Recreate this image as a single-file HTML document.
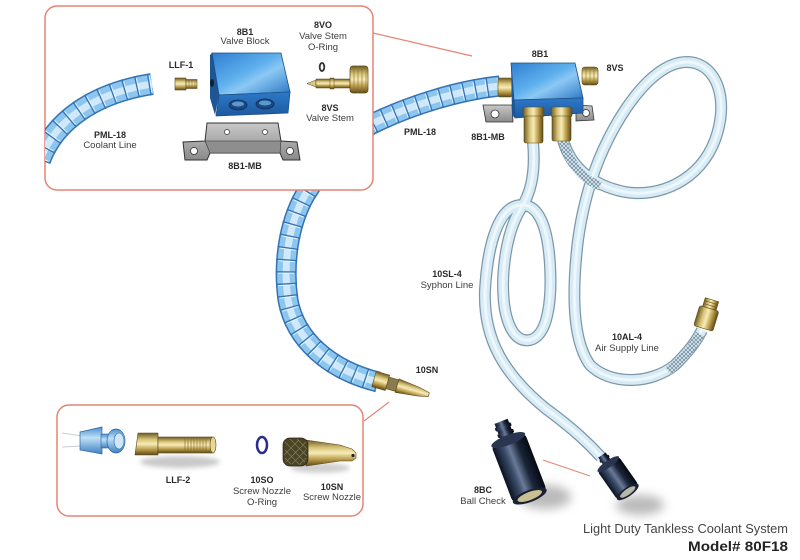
<!DOCTYPE html>
<html><head><meta charset="utf-8">
<style>
html,body{margin:0;padding:0;background:#fff;}
svg{display:block;}
text{font-family:"Liberation Sans",Arial,sans-serif;}
.b{font-weight:bold;font-size:9px;fill:#2a2a2a;}
.n{font-size:9.5px;fill:#3c3c3c;}
</style></head><body>
<svg width="800" height="560" viewBox="0 0 800 560" xmlns="http://www.w3.org/2000/svg">
<defs>
 <linearGradient id="brassV" x1="0" y1="0" x2="0" y2="1">
  <stop offset="0" stop-color="#6e5a22"/><stop offset="0.3" stop-color="#d9c57a"/><stop offset="0.5" stop-color="#f7ecb8"/><stop offset="0.75" stop-color="#b89a48"/><stop offset="1" stop-color="#5e4a18"/>
 </linearGradient>
 <linearGradient id="brassH" x1="0" y1="0" x2="1" y2="0">
  <stop offset="0" stop-color="#6e5a22"/><stop offset="0.3" stop-color="#d9c57a"/><stop offset="0.5" stop-color="#f7ecb8"/><stop offset="0.75" stop-color="#b89a48"/><stop offset="1" stop-color="#5e4a18"/>
 </linearGradient>
 <linearGradient id="blk" x1="0" y1="0" x2="1" y2="1">
  <stop offset="0" stop-color="#2f7fd0"/><stop offset="0.45" stop-color="#5fb0ee"/><stop offset="0.6" stop-color="#8cc8f4"/><stop offset="1" stop-color="#2a76c4"/>
 </linearGradient>
 <linearGradient id="blk2" x1="0" y1="0" x2="0" y2="1">
  <stop offset="0" stop-color="#2d79c8"/><stop offset="1" stop-color="#1d5aa0"/>
 </linearGradient>
 <linearGradient id="dark" x1="0" y1="0" x2="1" y2="0">
  <stop offset="0" stop-color="#0a1220"/><stop offset="0.3" stop-color="#3c4d6c"/><stop offset="0.45" stop-color="#6a7a98"/><stop offset="0.7" stop-color="#1a2538"/><stop offset="1" stop-color="#060a12"/>
 </linearGradient>
 <linearGradient id="bluepc" x1="0" y1="0" x2="0" y2="1">
  <stop offset="0" stop-color="#4d8fcf"/><stop offset="0.4" stop-color="#bfe0f7"/><stop offset="1" stop-color="#3f80c2"/>
 </linearGradient>
 <linearGradient id="gray" x1="0" y1="0" x2="0" y2="1">
  <stop offset="0" stop-color="#c8c8c8"/><stop offset="1" stop-color="#8a8a8a"/>
 </linearGradient>
 <pattern id="braid" patternUnits="userSpaceOnUse" width="4" height="4">
  <rect width="4" height="4" fill="#d6ebf5"/>
  <path d="M0,0 L4,4 M4,0 L0,4" stroke="#6d8290" stroke-width="0.7"/>
 </pattern>
 <filter id="blur" x="-50%" y="-50%" width="200%" height="200%"><feGaussianBlur stdDeviation="5"/></filter>
 <filter id="blur2" x="-50%" y="-50%" width="200%" height="200%"><feGaussianBlur stdDeviation="2.5"/></filter>
 <clipPath id="boxclip"><rect x="45" y="6" width="328" height="184" rx="12"/></clipPath>
 <path id="hL" d="M40,160 C55,120 95,93 152,84"/>
 <path id="hR" d="M500,86 C460,90 410,105 370,125 C340,145 320,170 305,195 C288,225 283,265 288,300 C295,340 330,370 378,382"/>
 <path id="tS" d="M533,142 C536,175 530,195 520,210 C505,235 500,280 505,310 C510,335 520,342 530,340 C548,336 552,300 550,265 C548,230 540,205 522,205 C500,205 488,240 485,290 C483,340 505,375 545,408 C575,430 590,445 601,457"/>
 <path id="tA" d="M563,140 C570,165 590,185 625,192 C660,198 700,180 715,140 C728,105 720,70 695,63 C670,57 645,80 625,110 C600,148 585,190 578,240 C572,290 572,340 590,365 C610,385 650,385 675,365 C688,352 696,342 702,330"/>
</defs>

<!-- main segmented hose (right PML-18 + down to nozzle) -->
<g fill="none">
 <use href="#hR" stroke="#3473b3" stroke-width="21"/>
 <use href="#hR" stroke="#8cc6ef" stroke-width="18"/>
 <use href="#hR" stroke="#cfe8fa" stroke-width="7"/>
 <use href="#hR" stroke="#3473b3" stroke-width="21" stroke-dasharray="1.4 10.6"/>
 <use href="#hR" stroke="#e8f4fc" stroke-width="16" stroke-dasharray="1 11" stroke-dashoffset="-1.4"/>
</g>

<!-- nozzle 10SN at hose end -->
<g transform="translate(374,379) rotate(16)">
 <rect x="0" y="-8" width="14" height="16" fill="url(#brassV)" stroke="#5a4818" stroke-width=".6"/>
 <rect x="14" y="-6" width="10" height="12" fill="#8a7a50" stroke="#5a4818" stroke-width=".6"/>
 <polygon points="24,-7 46,-4.5 57,-2 57,2 46,4.5 24,7" fill="url(#brassV)" stroke="#5a4818" stroke-width=".6"/>
</g>

<!-- top box -->
<rect x="45" y="6" width="328" height="184" rx="12" fill="#fff" stroke="#e58474" stroke-width="1.5"/>
<line x1="373" y1="33" x2="472" y2="56" stroke="#e58474" stroke-width="1.2"/>

<g clip-path="url(#boxclip)" fill="none">
 <use href="#hL" stroke="#3473b3" stroke-width="22"/>
 <use href="#hL" stroke="#8cc6ef" stroke-width="19"/>
 <use href="#hL" stroke="#cfe8fa" stroke-width="7"/>
 <use href="#hL" stroke="#3473b3" stroke-width="22" stroke-dasharray="1.4 11.2"/>
 <use href="#hL" stroke="#e8f4fc" stroke-width="17" stroke-dasharray="1 11.6" stroke-dashoffset="-1.4"/>
</g>

<!-- LLF-1 -->
<rect x="175" y="78" width="11" height="12" fill="url(#brassV)" stroke="#5a4818" stroke-width=".6"/>
<rect x="186" y="79.5" width="11" height="9" fill="url(#brassV)" stroke="#5a4818" stroke-width=".6"/>
<path d="M189,79.5 v9 M192,79.5 v9 M195,79.5 v9" stroke="#7a6630" stroke-width=".6"/>

<!-- valve block in box -->
<polygon points="210,55 212,53 219,95 215,115 210,98" fill="#1d5595"/>
<polygon points="212,53 281,53 290,92 219,95" fill="url(#blk)" stroke="#1d4f86" stroke-width=".8"/>
<polygon points="219,95 290,92 288,113 216,116" fill="url(#blk2)" stroke="#1d4f86" stroke-width=".8"/>
<ellipse cx="212" cy="83" rx="2" ry="4" fill="#102030"/>
<ellipse cx="238" cy="105" rx="9" ry="5" fill="#1a4a80" stroke="#0e2f55" stroke-width=".8"/>
<ellipse cx="238" cy="104" rx="6" ry="2.5" fill="#5c98d0"/>
<ellipse cx="265" cy="104" rx="9" ry="5" fill="#1a4a80" stroke="#0e2f55" stroke-width=".8"/>
<ellipse cx="265" cy="103" rx="6" ry="2.5" fill="#5c98d0"/>

<!-- bracket 8B1-MB -->
<polygon points="207,123 278,123 281,141 297,142 300,160 283,160 280,153 210,153 207,160 185,160 183,142 205,141" fill="url(#gray)" stroke="#333" stroke-width="1"/>
<polygon points="205,141 281,141 280,153 210,153" fill="#8e8e8e" stroke="#333" stroke-width=".6"/>
<circle cx="227" cy="132" r="2.5" fill="#fff" stroke="#333" stroke-width=".7"/>
<circle cx="265" cy="132" r="2.5" fill="#fff" stroke="#333" stroke-width=".7"/>
<circle cx="194" cy="151" r="3.5" fill="#fff" stroke="#333" stroke-width=".8"/>
<circle cx="290" cy="151" r="3.5" fill="#fff" stroke="#333" stroke-width=".8"/>

<!-- o-ring 8VO and valve stem 8VS -->
<ellipse cx="322" cy="67" rx="2.3" ry="4" fill="none" stroke="#333" stroke-width="1.8"/>
<polygon points="307,83.5 316,80 316,87" fill="#d8c888" stroke="#5a4818" stroke-width=".5"/>
<rect x="316" y="79" width="34" height="9" fill="url(#brassV)" stroke="#5a4818" stroke-width=".5"/>
<rect x="330" y="78" width="4" height="11" fill="url(#brassV)" stroke="#5a4818" stroke-width=".5"/>
<rect x="350" y="66" width="18" height="27" rx="3" fill="url(#brassV)" stroke="#5a4818" stroke-width=".7"/>
<path d="M354,67 v25 M358,66 v27 M362,66 v27 M366,67 v25" stroke="#8a7438" stroke-width=".6"/>

<!-- tubes -->
<g fill="none">
 <use href="#tS" stroke="#7d97a8" stroke-width="12"/>
 <use href="#tS" stroke="#d6ebf5" stroke-width="9.5"/>
 <use href="#tS" stroke="#eef7fb" stroke-width="3"/>
 <use href="#tA" stroke="#7d97a8" stroke-width="12"/>
 <use href="#tA" stroke="#d6ebf5" stroke-width="9.5"/>
 <use href="#tA" stroke="#eef7fb" stroke-width="3"/>
 <path d="M563,140 C568,160 580,178 600,186" stroke="url(#braid)" stroke-width="9"/>
 <path d="M668,371 C682,360 692,348 700,334" stroke="url(#braid)" stroke-width="9"/>
</g>

<!-- right block 8B1 assembly -->
<polygon points="483,105 512,105 513,122 486,122" fill="url(#gray)" stroke="#333" stroke-width=".8"/>
<circle cx="495" cy="114" r="4" fill="#fff" stroke="#333" stroke-width=".8"/>
<polygon points="576,105 592,106 594,120 576,121" fill="url(#gray)" stroke="#333" stroke-width=".8"/>
<circle cx="586" cy="113" r="3.5" fill="#fff" stroke="#333" stroke-width=".8"/>
<rect x="498" y="78" width="14" height="19" rx="2" fill="url(#brassV)" stroke="#5a4818" stroke-width=".6"/>
<rect x="582" y="67" width="16" height="18" rx="3" fill="url(#brassV)" stroke="#5a4818" stroke-width=".6"/>
<path d="M586,68 v16 M590,67 v18 M594,68 v16" stroke="#8a7438" stroke-width=".6"/>
<polygon points="511,63 575,63 583,98 514,100" fill="url(#blk)" stroke="#1d4f86" stroke-width=".8"/>
<polygon points="514,100 583,98 583,113 515,118" fill="url(#blk2)" stroke="#1d4f86" stroke-width=".8"/>
<polygon points="511,63 514,100 515,118 512,115" fill="#1d5595"/>
<rect x="523" y="107" width="21" height="10" rx="2" fill="url(#brassH)" stroke="#5a4818" stroke-width=".6"/>
<rect x="524" y="116" width="19" height="27" rx="2" fill="url(#brassH)" stroke="#5a4818" stroke-width=".6"/>
<rect x="551" y="107" width="21" height="10" rx="2" fill="url(#brassH)" stroke="#5a4818" stroke-width=".6"/>
<rect x="552" y="116" width="19" height="25" rx="2" fill="url(#brassH)" stroke="#5a4818" stroke-width=".6"/>

<!-- air fitting end -->
<g transform="translate(707,316) rotate(17)">
 <rect x="-10" y="-8" width="20" height="21" rx="2" fill="url(#brassH)" stroke="#5a4818" stroke-width=".6"/>
 <rect x="-7" y="-17" width="14" height="9" fill="url(#brassH)" stroke="#5a4818" stroke-width=".6"/>
 <path d="M-7,-14 h14 M-7,-11 h14" stroke="#6e5a22" stroke-width=".6"/>
</g>

<!-- ball checks -->
<ellipse cx="545" cy="497" rx="26" ry="12" fill="#777" opacity=".5" filter="url(#blur)"/>
<ellipse cx="640" cy="505" rx="24" ry="10" fill="#777" opacity=".5" filter="url(#blur)"/>
<g transform="translate(519,468) rotate(-21)">
 <rect x="-7" y="-50" width="14" height="22" fill="url(#dark)"/>
 <rect x="-8.5" y="-46" width="17" height="4" rx="1.5" fill="url(#dark)"/>
 <rect x="-8.5" y="-39" width="17" height="4" rx="1.5" fill="url(#dark)"/>
 <rect x="-18" y="-30" width="36" height="60" rx="4" fill="url(#dark)"/>
 <ellipse cx="0" cy="-30" rx="18" ry="5" fill="#2a3650"/>
 <ellipse cx="0" cy="30" rx="18" ry="6" fill="#1a2232"/>
 <ellipse cx="0" cy="30" rx="13" ry="4" fill="#c8c090"/>
</g>
<g transform="translate(618,478) rotate(-35)">
 <rect x="-4.5" y="-28" width="9" height="12" fill="url(#dark)"/>
 <rect x="-5.5" y="-25" width="11" height="3" rx="1" fill="url(#dark)"/>
 <rect x="-13" y="-17" width="26" height="34" rx="3" fill="url(#dark)"/>
 <ellipse cx="0" cy="-17" rx="13" ry="3.5" fill="#2a3650"/>
 <ellipse cx="0" cy="17" rx="13" ry="4.5" fill="#1a2232"/>
 <ellipse cx="0" cy="17" rx="9" ry="3" fill="#b8b8a8"/>
</g>
<line x1="543" y1="460" x2="590" y2="476" stroke="#e58474" stroke-width="1"/>

<!-- bottom box -->
<rect x="57" y="405" width="306" height="111" rx="12" fill="#fff" stroke="#e58474" stroke-width="1.5"/>
<line x1="364" y1="421" x2="389" y2="402" stroke="#e58474" stroke-width="1.2"/>
<ellipse cx="180" cy="462" rx="40" ry="6" fill="#888" opacity=".45" filter="url(#blur2)"/>
<ellipse cx="320" cy="468" rx="30" ry="5" fill="#888" opacity=".4" filter="url(#blur2)"/>
<path d="M62,433 L82,436 M62,447 L82,446" stroke="#c8ccd4" stroke-width="1"/>
<polygon points="80,432 102,427 102,454 80,450" fill="url(#bluepc)" stroke="#2a64a0" stroke-width=".7"/>
<rect x="101" y="434" width="8" height="14" fill="url(#bluepc)" stroke="#2a64a0" stroke-width=".6"/>
<ellipse cx="116" cy="441" rx="9" ry="12" fill="url(#bluepc)" stroke="#2a64a0" stroke-width=".7"/>
<ellipse cx="119" cy="441" rx="5" ry="8" fill="#cfe6f8" stroke="#2a64a0" stroke-width=".6"/>
<polygon points="138,433 158,433 158,455 135,455" fill="url(#brassV)" stroke="#5a4818" stroke-width=".6"/>
<rect x="158" y="437" width="55" height="16" fill="url(#brassV)" stroke="#5a4818" stroke-width=".6"/>
<path d="M185,437 v16 M188,437 v16 M191,437 v16 M194,437 v16 M197,437 v16 M200,437 v16 M203,437 v16 M206,437 v16" stroke="#7a6630" stroke-width=".6"/>
<ellipse cx="213" cy="445" rx="3" ry="8" fill="#e8d898" stroke="#5a4818" stroke-width=".6"/>
<ellipse cx="262" cy="445" rx="5" ry="8" fill="none" stroke="#2c2c90" stroke-width="2.5"/>
<polygon points="306,440 340,445 352,449 356,453 356,458 352,461 340,461 306,466" fill="url(#brassV)" stroke="#5a4818" stroke-width=".6"/>
<rect x="283" y="438" width="25" height="28" rx="7" fill="#4a4428" stroke="#2a2410" stroke-width=".7"/>
<path d="M285,442 l20,20 M285,450 l14,14 M290,439 l17,17 M297,439 l10,10 M285,458 l6,6 M306,442 l-20,20 M299,440 l-15,15 M306,450 l-14,14 M306,458 l-7,7" stroke="#8a804e" stroke-width=".6"/>
<circle cx="353" cy="455.5" r="1.6" fill="#222"/>

<!-- labels -->
<g text-anchor="middle">
 <text class="b" x="245" y="35">8B1</text>
 <text class="n" x="245" y="44">Valve Block</text>
 <text class="b" x="323" y="28">8VO</text>
 <text class="n" x="323" y="39">Valve Stem</text>
 <text class="n" x="323" y="50">O-Ring</text>
 <text class="b" x="181" y="68">LLF-1</text>
 <text class="b" x="330" y="111">8VS</text>
 <text class="n" x="330" y="121">Valve Stem</text>
 <text class="b" x="110" y="138">PML-18</text>
 <text class="n" x="110" y="148">Coolant Line</text>
 <text class="b" x="245" y="169">8B1-MB</text>
 <text class="b" x="420" y="135">PML-18</text>
 <text class="b" x="540" y="57">8B1</text>
 <text class="b" x="615" y="71">8VS</text>
 <text class="b" x="488" y="140">8B1-MB</text>
 <text class="b" x="447" y="277">10SL-4</text>
 <text class="n" x="447" y="288">Syphon Line</text>
 <text class="b" x="427" y="373">10SN</text>
 <text class="b" x="627" y="340">10AL-4</text>
 <text class="n" x="627" y="351">Air Supply Line</text>
 <text class="b" x="483" y="493">8BC</text>
 <text class="n" x="483" y="504">Ball Check</text>
 <text class="b" x="178" y="483">LLF-2</text>
 <text class="b" x="262" y="483">10SO</text>
 <text class="n" x="262" y="494">Screw Nozzle</text>
 <text class="n" x="262" y="505">O-Ring</text>
 <text class="b" x="332" y="490">10SN</text>
 <text class="n" x="332" y="500">Screw Nozzle</text>
</g>
<text x="583" y="533" font-size="12.5" fill="#444" textLength="205" lengthAdjust="spacingAndGlyphs">Light Duty Tankless Coolant System</text>
<text x="688" y="551" font-size="14" font-weight="bold" fill="#222" textLength="100" lengthAdjust="spacingAndGlyphs">Model# 80F18</text>
</svg>
</body></html>
